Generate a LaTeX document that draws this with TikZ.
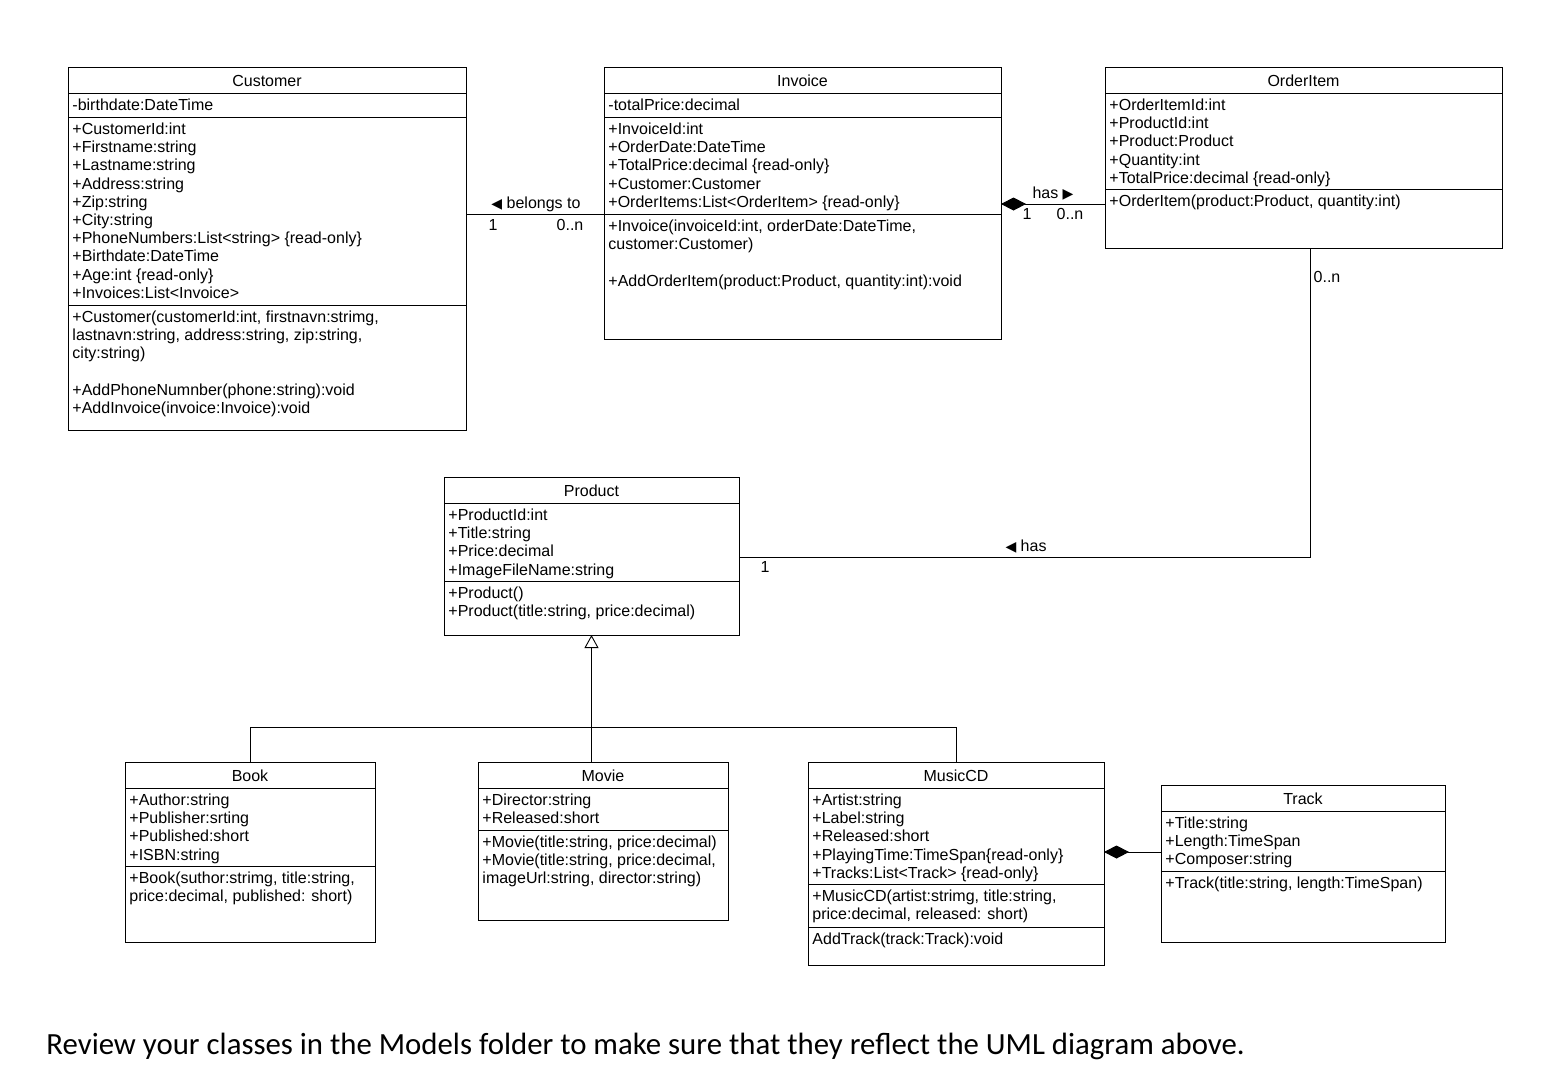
\documentclass[tikz,border=0pt]{standalone}
\usepackage{fontspec}
\setmainfont{Liberation Sans}
\newfontfamily\notefont{Carlito}
\newfontfamily\arrowfont{DejaVu Sans}
\usepackage{tikz}
\usetikzlibrary{calc, arrows.meta}

\begin{document}
\begin{tikzpicture}[x=1pt, y=-1pt, line width=0.9pt, font=\fontsize{16}{18.2}\selectfont]
\tikzstyle{cls}=[draw, anchor=north west, inner sep=0pt, outer sep=0pt]
\tikzstyle{title}=[anchor=base, inner sep=0pt]
\tikzstyle{members}=[anchor=north west, align=left, inner sep=0pt]
\tikzstyle{mult}=[anchor=base, inner sep=0pt]
\path[fill=white] (0,0) rectangle (1564,1080);
% Customer
\node[cls, minimum width=398, minimum height=363] (Customer) at (68,67) {};
\node[title] (Customer-t) at (267,86) {Customer};
\draw (Customer.west |- 0,93) -- (Customer.east |- 0,93);
\draw (Customer.west |- 0,117) -- (Customer.east |- 0,117);
\draw (Customer.west |- 0,305) -- (Customer.east |- 0,305);
\node[members] (Customer-p) at (72,97.26) {\strut-birthdate:DateTime};
\node[members] (Customer-a) at (72,121.26) {\strut+CustomerId:int\\ +Firstname:string\\ +Lastname:string\\ +Address:string\\ +Zip:string\\ +City:string\\ +PhoneNumbers:List<string> \{read-only\}\\ +Birthdate:DateTime\\ +Age:int \{read-only\}\\ +Invoices:List<Invoice>};
\node[members] (Customer-m) at (72,309.26) {\strut+Customer(customerId:int, firstnavn:strimg,\\ lastnavn:string, address:string, zip:string,\\ city:string)\\[18.2pt] +AddPhoneNumnber(phone:string):void\\ +AddInvoice(invoice:Invoice):void};
% Invoice
\node[cls, minimum width=397, minimum height=272] (Invoice) at (604,67) {};
\node[title] (Invoice-t) at (802.5,86) {Invoice};
\draw (Invoice.west |- 0,93) -- (Invoice.east |- 0,93);
\draw (Invoice.west |- 0,117) -- (Invoice.east |- 0,117);
\draw (Invoice.west |- 0,214) -- (Invoice.east |- 0,214);
\node[members] (Invoice-p) at (608,97.26) {\strut-totalPrice:decimal};
\node[members] (Invoice-a) at (608,121.26) {\strut+InvoiceId:int\\ +OrderDate:DateTime\\ +TotalPrice:decimal \{read-only\}\\ +Customer:Customer\\ +OrderItems:List<OrderItem> \{read-only\}};
\node[members] (Invoice-m) at (608,218.26) {\strut+Invoice(invoiceId:int, orderDate:DateTime,\\ customer:Customer)\\[18.2pt] +AddOrderItem(product:Product, quantity:int):void};
% OrderItem
\node[cls, minimum width=397, minimum height=181] (OrderItem) at (1105,67) {};
\node[title] (OrderItem-t) at (1303.5,86) {OrderItem};
\draw (OrderItem.west |- 0,93) -- (OrderItem.east |- 0,93);
\draw (OrderItem.west |- 0,189) -- (OrderItem.east |- 0,189);
\node[members] (OrderItem-a) at (1109,97.26) {\strut+OrderItemId:int\\ +ProductId:int\\ +Product:Product\\ +Quantity:int\\ +TotalPrice:decimal \{read-only\}};
\node[members] (OrderItem-m) at (1109,193.26) {\strut+OrderItem(product:Product, quantity:int)};
% Product
\node[cls, minimum width=295, minimum height=158] (Product) at (444,477) {};
\node[title] (Product-t) at (591.5,496) {Product};
\draw (Product.west |- 0,503) -- (Product.east |- 0,503);
\draw (Product.west |- 0,581) -- (Product.east |- 0,581);
\node[members] (Product-a) at (448,507.26) {\strut+ProductId:int\\ +Title:string\\ +Price:decimal\\ +ImageFileName:string};
\node[members] (Product-m) at (448,585.26) {\strut+Product()\\ +Product(title:string, price:decimal)};
% Book
\node[cls, minimum width=250, minimum height=180] (Book) at (125,762) {};
\node[title] (Book-t) at (250,781) {Book};
\draw (Book.west |- 0,788) -- (Book.east |- 0,788);
\draw (Book.west |- 0,866) -- (Book.east |- 0,866);
\node[members] (Book-a) at (129,792.26) {\strut+Author:string\\ +Publisher:srting\\ +Published:short\\ +ISBN:string};
\node[members] (Book-m) at (129,870.26) {\strut+Book(suthor:strimg, title:string,\\ price:decimal, published: short)};
% Movie
\node[cls, minimum width=250, minimum height=158] (Movie) at (478,762) {};
\node[title] (Movie-t) at (603,781) {Movie};
\draw (Movie.west |- 0,788) -- (Movie.east |- 0,788);
\draw (Movie.west |- 0,830) -- (Movie.east |- 0,830);
\node[members] (Movie-a) at (482,792.26) {\strut+Director:string\\ +Released:short};
\node[members] (Movie-m) at (482,834.26) {\strut+Movie(title:string, price:decimal)\\ +Movie(title:string, price:decimal,\\ imageUrl:string, director:string)};
% MusicCD
\node[cls, minimum width=296, minimum height=203] (MusicCD) at (808,762) {};
\node[title] (MusicCD-t) at (956,781) {MusicCD};
\draw (MusicCD.west |- 0,788) -- (MusicCD.east |- 0,788);
\draw (MusicCD.west |- 0,884) -- (MusicCD.east |- 0,884);
\draw (MusicCD.west |- 0,927) -- (MusicCD.east |- 0,927);
\node[members] (MusicCD-a) at (812,792.26) {\strut+Artist:string\\ +Label:string\\ +Released:short\\ +PlayingTime:TimeSpan\{read-only\}\\ +Tracks:List<Track> \{read-only\}};
\node[members] (MusicCD-m) at (812,888.26) {\strut+MusicCD(artist:strimg, title:string,\\ price:decimal, released: short)};
\node[members] (MusicCD-x) at (812,931.26) {\strut AddTrack(track:Track):void};
% Track
\node[cls, minimum width=284, minimum height=157] (Track) at (1161,785) {};
\node[title] (Track-t) at (1303,804) {Track};
\draw (Track.west |- 0,811) -- (Track.east |- 0,811);
\draw (Track.west |- 0,871) -- (Track.east |- 0,871);
\node[members] (Track-a) at (1165,815.26) {\strut+Title:string\\ +Length:TimeSpan\\ +Composer:string};
\node[members] (Track-m) at (1165,875.26) {\strut+Track(title:string, length:TimeSpan)};
% associations
\draw (Customer.east |- 0,214) -- (Invoice.west |- 0,214);
\node[mult] (belongs) at (536,208) {{\arrowfont\fontsize{14}{14}\selectfont ◀} belongs to};
\node[mult] (belongs-1) at (493,230) {1};
\node[mult] (belongs-n) at (570,230) {0..n};
\draw[{Diamond[length=25pt,width=13pt]}-] (Invoice.east |- 0,204) -- (OrderItem.west |- 0,204);
\node[mult] (has) at (1053,198) {has {\arrowfont\fontsize{14}{14}\selectfont ▶}};
\node[mult] (has-1) at (1027,219) {1};
\node[mult] (has-n) at (1070,219) {0..n};
\draw (Product.east |- 0,557) -| (OrderItem.south -| 1310,0);
\node[mult] (has2) at (1026,551) {{\arrowfont\fontsize{14}{14}\selectfont ◀} has};
\node[mult] (has2-1) at (765,572) {1};
\node[mult] (has2-n) at (1327,282) {0..n};
\draw[{Diamond[length=25pt,width=13pt]}-] (MusicCD.east |- 0,852) -- (Track.west |- 0,852);
% inheritance
\draw (Book.north) |- (MusicCD.north |- 0,727) -- (MusicCD.north);
\draw[-{Triangle[open,fill=white,length=13pt,width=14pt]}] (Movie.north -| Product.south) -- (Product.south);
\node[anchor=base west, inner sep=0pt, font=\notefont\fontsize{30.8}{33}\selectfont] (note) at (46,1054) {Review your classes in the Models folder to make sure that they reflect the UML diagram above.};
\end{tikzpicture}
\end{document}
